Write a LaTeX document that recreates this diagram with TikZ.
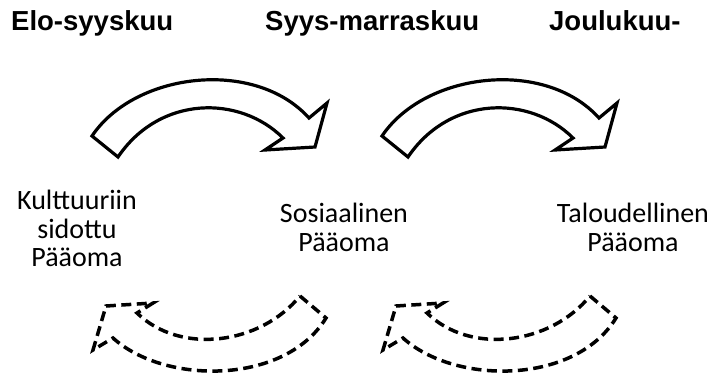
\documentclass[tikz,border=0pt]{standalone}
\usepackage{fontspec}
\setmainfont{Carlito}
\newfontfamily\titlefont{Liberation Sans}
\begin{document}
\begin{tikzpicture}[x=1pt,y=-1pt,
  heading/.style={anchor=base west,inner sep=0pt,font=\titlefont\bfseries\fontsize{27.5}{30}\selectfont},
  capital/.style={anchor=north,inner sep=0pt,align=center,font=\fontsize{28}{28.5}\selectfont},
  flowarrow/.style={draw=black,fill=white,line width=3.2pt,line join=miter},
  backarrow/.style={draw=black,line width=3.5pt,dash pattern=on 10pt off 5.5pt,line join=miter}]
\useasboundingbox (0,0) rectangle (712,380);

% month headings
\node[heading] (h1) at (11,30) {Elo-syyskuu};
\node[heading] (h2) at (265,30) {Syys-marraskuu};
\node[heading] (h3) at (549,30) {Joulukuu-};

% forms of capital
\node[capital] (c1) at (77,190) {Kulttuuriin\\sidottu\\Pääoma};
\node[capital] (c2) at (344,203) {Sosiaalinen\\Pääoma};
\node[capital] (c3) at (633,203) {Taloudellinen\\Pääoma};

% curved block arrows, forward (solid) and backward (dashed)
\foreach \dx in {0,290}{
  \begin{scope}[xshift=\dx]
    \path[flowarrow] (92,136) .. controls (135,72) and (255,58) .. (309,118)
      -- (327,103) -- (315,147) -- (265,150) -- (283,138)
      .. controls (240,95) and (160,95) .. (118,157) -- cycle;
    \path[backarrow] (300,296) -- (326,318)
      .. controls (285,385) and (165,385) .. (113,338)
      -- (93,350) -- (106,306) -- (153,303) -- (137,313)
      .. controls (180,355) and (260,345) .. (300,296) -- cycle;
  \end{scope}
}
\end{tikzpicture}
\end{document}
